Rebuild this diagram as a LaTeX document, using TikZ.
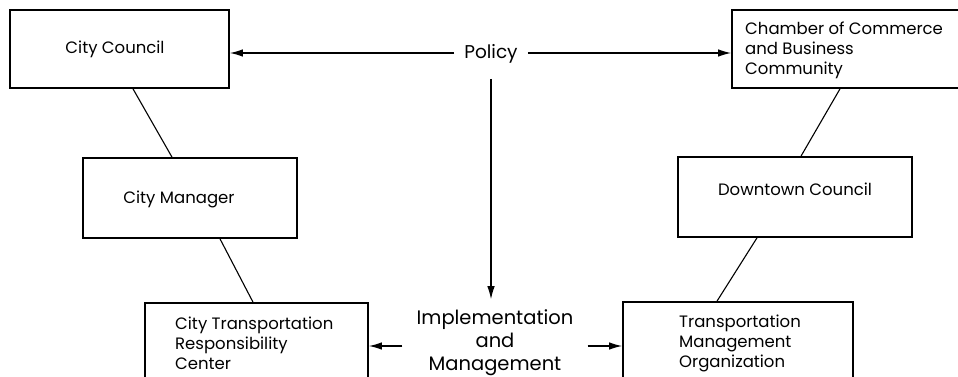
\documentclass[tikz,border=0pt]{standalone}
\usepackage{fontspec}
\setmainfont{Poppins}
\usetikzlibrary{arrows.meta,calc}
\begin{document}
\begin{tikzpicture}[x=1pt,y=-1pt,
  box/.style={draw,line width=1.7pt,rectangle,inner sep=0pt},
  lbl/.style={font=\fontsize{16.5}{20}\selectfont,align=left,inner sep=0pt},
  big/.style={font=\fontsize{19.5}{23}\selectfont,align=center},
  conn/.style={line width=1.1pt},
  arr/.style={line width=1.2pt,-{Latex[length=13pt,width=7.5pt]}}]
\useasboundingbox (0,0) rectangle (958,377);
\clip (0,0) rectangle (958,377);
% boxes
\node[box,minimum width=219pt,minimum height=78pt] (cc) at (119.5,49) {};
\node[box,minimum width=300pt,minimum height=78pt] (ch) at (882,49) {};
\node[box,minimum width=214pt,minimum height=80pt] (cm) at (190,198) {};
\node[box,minimum width=234pt,minimum height=80pt] (dc) at (795,197) {};
\node[box,minimum width=223pt,minimum height=120pt] (ct) at (256.5,363) {};
\node[box,minimum width=230pt,minimum height=120pt] (tmo) at (738,362) {};
% labels
\node[lbl] (cct) at (115,49) {City Council};
\node[lbl,anchor=west] (cht) at (745,50) {Chamber of Commerce\\and Business\\Community};
\node[lbl] (cmt) at (179,199) {City Manager};
\node[lbl] (dct) at (795,189) {Downtown Council};
\node[lbl,anchor=west] (ctt) at (175,343) {City Transportation\\Responsibility\\Center};
\node[lbl,anchor=west] (tmot) at (679,343) {Transportation\\Management\\Organization};
\node[font=\fontsize{18.5}{22}\selectfont,inner xsep=10pt,inner ysep=0pt] (policy) at (491,54) {Policy};
\node[big,inner xsep=14pt,inner ysep=10pt] (impl) at (495,342.5) {Implementation\\and\\Management};
\coordinate (il) at ([yshift=-3.5pt]impl.west);
\coordinate (ir) at ([yshift=-3.5pt]impl.east);
\coordinate (pd) at ([yshift=-25pt]policy.center);
\coordinate (pl) at ([yshift=1pt]policy.west);
\coordinate (pr) at ([yshift=1pt]policy.east);
% arrows
\draw[arr] (pl) -- (cc.east |- pl);
\draw[arr] (pr) -- (ch.west |- pr);
\draw[arr] (pd) -- (pd |- impl.north);
\draw[arr] (il) -- (ct.east |- il);
\draw[arr] (ir) -- (tmo.west |- ir);
% connectors
\draw[conn] ([xshift=13.5pt]cc.south) -- ([xshift=-18pt]cm.north);
\draw[conn] ([xshift=30pt]cm.south) -- ([xshift=-3.5pt]ct.north);
\draw[conn] ([xshift=-42pt]ch.south) -- ([xshift=6pt]dc.north);
\draw[conn] ([xshift=-38pt]dc.south) -- ([xshift=-21pt]tmo.north);
\end{tikzpicture}
\end{document}
